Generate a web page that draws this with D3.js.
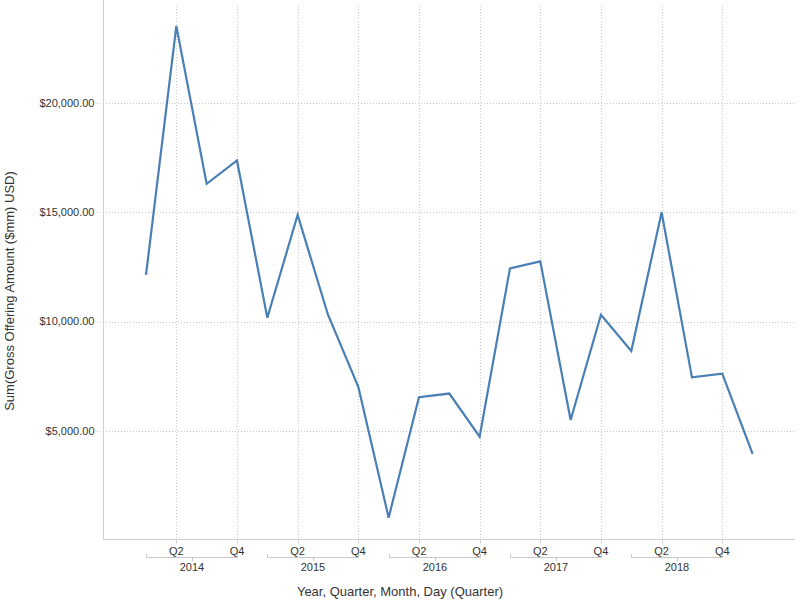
<!DOCTYPE html>
<html>
<head>
<meta charset="utf-8">
<script src="https://cdn.jsdelivr.net/npm/d3@7"></script>
<style>
  html, body { margin: 0; padding: 0; background: #fff; }
  svg { display: block; font-family: "Liberation Sans", Arial, sans-serif; }
</style>
</head>
<body>
<svg id="chart" width="800" height="600"></svg>
<script>
// ---- data ----
const years = ["2014", "2014", "2014", "2014", "2015", "2015", "2015", "2015",
               "2016", "2016", "2016", "2016", "2017", "2017", "2017", "2017",
               "2018", "2018", "2018", "2018", "2019"];
const quarters = ["Q1", "Q2", "Q3", "Q4", "Q1", "Q2", "Q3", "Q4",
                  "Q1", "Q2", "Q3", "Q4", "Q1", "Q2", "Q3", "Q4",
                  "Q1", "Q2", "Q3", "Q4", "Q1"];
const values = [12130, 23500, 16290, 17360, 10170, 14870, 10310, 7020,
                1040, 6540, 6710, 4740, 12430, 12750, 5500, 10310,
                8650, 14990, 7450, 7620, 3950];
const yTicks = [5000, 10000, 15000, 20000];
const labeledQuarters = ["Q2", "Q4"];
const bracketYears = ["2014", "2015", "2016", "2017", "2018"];

// ---- layout ----
const svg = d3.select("#chart");
const plotLeft = 103.5, plotRight = 795, plotBottom = 539.5;

const x = d3.scaleLinear().domain([0, 20]).range([146, 752.6]);
const y = d3.scaleLinear().domain([0, 24690]).range([540.4, 0]);

const gridColor = "#c8c8c8";
const textColor = "#333333";

// horizontal gridlines
svg.append("g").selectAll("line").data(yTicks).join("line")
  .attr("x1", 97).attr("x2", plotRight)
  .attr("y1", d => Math.round(y(d)) + 0.5).attr("y2", d => Math.round(y(d)) + 0.5)
  .attr("stroke", gridColor).attr("stroke-width", 1).attr("stroke-dasharray", "1,2");

// vertical gridlines at labeled quarters
const idx = d3.range(values.length);
const vIdx = idx.filter(i => labeledQuarters.includes(quarters[i]) && bracketYears.includes(years[i]));
svg.append("g").selectAll("line").data(vIdx).join("line")
  .attr("x1", i => Math.round(x(i)) + 0.5).attr("x2", i => Math.round(x(i)) + 0.5)
  .attr("y1", 6).attr("y2", plotBottom)
  .attr("stroke", gridColor).attr("stroke-width", 1).attr("stroke-dasharray", "1,2");

// axes lines
svg.append("line").attr("x1", plotLeft).attr("x2", plotLeft).attr("y1", 0).attr("y2", plotBottom)
  .attr("stroke", "#cfcfcf").attr("stroke-width", 1);
svg.append("line").attr("x1", plotLeft).attr("x2", plotRight).attr("y1", plotBottom).attr("y2", plotBottom)
  .attr("stroke", "#cfcfcf").attr("stroke-width", 1);

// x ticks below axis
svg.append("g").selectAll("line").data(vIdx).join("line")
  .attr("x1", i => Math.round(x(i)) + 0.5).attr("x2", i => Math.round(x(i)) + 0.5)
  .attr("y1", plotBottom).attr("y2", plotBottom + 4)
  .attr("stroke", "#cfcfcf").attr("stroke-width", 1);

// y tick labels
const fmt = d3.format("$,.2f");
svg.append("g").selectAll("text").data(yTicks).join("text")
  .attr("x", 94.5).attr("y", d => y(d))
  .attr("dy", "0.35em").attr("text-anchor", "end")
  .attr("font-size", 11).attr("fill", textColor)
  .text(d => fmt(d));

// quarter labels
svg.append("g").selectAll("text").data(vIdx).join("text")
  .attr("x", i => x(i)).attr("y", 551)
  .attr("dy", "0.35em").attr("text-anchor", "middle")
  .attr("font-size", 11).attr("fill", textColor)
  .text(i => quarters[i]);

// year brackets
const yb = svg.append("g");
bracketYears.forEach(yr => {
  const ii = idx.filter(i => years[i] === yr);
  const x0 = Math.round(x(d3.min(ii))) + 0.5, x1 = Math.round(x(d3.max(ii))) + 0.5;
  const xm = Math.round((x0 + x1) / 2) + 0.5;
  yb.append("path")
    .attr("d", `M${x0},554 V557.5 H${x1} V554 M${xm},557.5 V561`)
    .attr("fill", "none").attr("stroke", "#c8c8c8").attr("stroke-width", 1);
  yb.append("text")
    .attr("x", (x0 + x1) / 2).attr("y", 567.5)
    .attr("dy", "0.35em").attr("text-anchor", "middle")
    .attr("font-size", 11).attr("fill", textColor)
    .text(yr);
});

// line
const line = d3.line().x((d, i) => x(i)).y(d => y(d));
svg.append("path").datum(values)
  .attr("d", line)
  .attr("fill", "none").attr("stroke", "#4a7fb6")
  .attr("stroke-width", 2.2).attr("stroke-linejoin", "miter");

// axis titles
svg.append("text")
  .attr("x", 400).attr("y", 591).attr("dy", "0.35em")
  .attr("text-anchor", "middle").attr("font-size", 13).attr("fill", textColor)
  .text("Year, Quarter, Month, Day (Quarter)");
svg.append("text")
  .attr("transform", "translate(9,291) rotate(-90)")
  .attr("dy", "0.35em")
  .attr("text-anchor", "middle").attr("font-size", 13).attr("fill", textColor)
  .text("Sum(Gross Offering Amount ($mm) USD)");
</script>
</body>
</html>
